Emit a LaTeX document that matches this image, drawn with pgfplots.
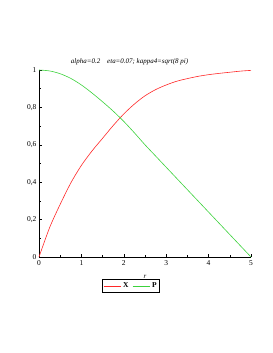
\documentclass[border=0pt]{standalone}
\usepackage{pgfplots}
\pgfplotsset{compat=1.18}
\usepackage{fontspec}
\setmainfont{Liberation Serif}
\definecolor{mred}{RGB}{255,40,40}
\definecolor{mgreen}{RGB}{60,210,60}
\begin{document}
\begin{tikzpicture}[x=1bp,y=1bp]
\useasboundingbox (-39,-96) rectangle (234,257);
\begin{axis}[
  at={(0,0)}, anchor=origin,
  scale only axis, width=212bp, height=187bp,
  xmin=0, xmax=5, ymin=0, ymax=1,
  axis lines=left, axis line style={-, line width=0.8pt},
  xtick={0,1,2,3,4,5}, ytick={0,0.2,0.4,0.6,0.8,1},
  minor xtick={0.5,1.5,2.5,3.5,4.5},
  minor ytick={0.1,0.3,0.5,0.7,0.9},
  tick style={black, line width=0.6pt},
  major tick length=3bp, minor tick length=2bp,
  tick align=inside,
  /pgf/number format/assume math mode=true,
  /pgf/number format/use comma,
  ticklabel style={font=\fontsize{7.5}{8}\selectfont},
  yticklabel style={xshift=1bp},
  clip=false,
  legend columns=2,
  legend style={at={(0.434,-0.155)}, anchor=center, draw=black, line width=0.8pt,
    font=\fontsize{7.5}{8}\selectfont\bfseries, inner sep=1pt,
    /tikz/every even column/.append style={column sep=2pt}},
  legend image post style={line width=0.6pt},
]
\addplot[mred, line width=0.6pt, smooth] coordinates {
(0,0) (0.25,0.157) (0.5,0.282) (0.75,0.396) (1,0.49) (1.25,0.567) (1.5,0.635) (1.75,0.703) (2,0.765)
(2.25,0.818) (2.5,0.862) (2.75,0.895) (3,0.92) (3.25,0.94) (3.5,0.954) (3.75,0.966) (4,0.975)
(4.25,0.982) (4.5,0.988) (4.75,0.994) (5,0.998)};
\addlegendentry{X}
\addplot[mgreen, line width=0.6pt, smooth] coordinates {
(0,1.0) (0.25,0.995) (0.5,0.98) (0.75,0.955) (1,0.92) (1.25,0.877) (1.5,0.83) (1.75,0.78)
(2,0.725) (2.25,0.664) (2.5,0.60) (2.75,0.54) (3,0.48) (3.5,0.36) (4,0.24) (4.5,0.12) (5,0)};
\addlegendentry{P}
\node[font=\fontsize{7}{8}\selectfont\itshape] at (rel axis cs:0.427,1.043) {alpha=0.2\quad eta=0.07; kappa4=sqrt(8 pi)};
\node[font=\fontsize{7}{8}\selectfont\itshape] at (rel axis cs:0.5,-0.107) {r};
\end{axis}
\end{tikzpicture}
\end{document}
